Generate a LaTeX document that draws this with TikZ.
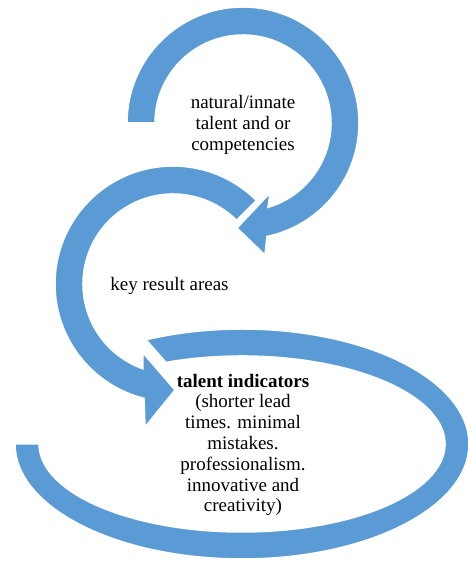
\documentclass[tikz,border=0pt]{standalone}
\usepackage{fontspec}
\setmainfont{Liberation Serif}
\usepackage{tikz}
\usetikzlibrary{calc}
\definecolor{arcblue}{RGB}{91, 155, 213}

\tikzset{
  arcband/.style={fill=arcblue, draw=white, line width=1.5pt, line join=miter},
  arclabel/.style={align=center, inner sep=0pt, font=\fontsize{19}{20.8}\selectfont}
}

\begin{document}
\begin{tikzpicture}[x=1pt, y=1pt]
        \useasboundingbox (0,0) rectangle (467,561);
        % centres of the three loops
        \coordinate (ctop) at (243,438);
        \coordinate (cmid) at (173,277);
        \coordinate (cbot) at (242,117);
        % bottom loop (no head)
        \filldraw[arcband] ($(cbot)+(-227,0)$)
            arc[start angle=180, end angle=475, x radius=227pt, y radius=115pt]
            -- ($(cbot)+({203*cos(472)},{88*sin(472)})$)
            arc[start angle=472, end angle=180, x radius=203pt, y radius=88pt] -- cycle;
        % middle loop
        \filldraw[arcband] ($(cmid)+(45:118pt)$)
            arc[start angle=45, end angle=255.8, radius=118pt]
            -- (145,134) -- (175,171) -- (143,208)
            -- ($(cmid)+(250.5:90pt)$)
            arc[start angle=250.5, end angle=45, radius=90pt] -- cycle;
        % top loop
        \filldraw[arcband] ($(ctop)+(180:116pt)$)
            arc[start angle=180, end angle=-78.1, radius=116pt]
            -- (265,306) -- (237,333) -- (270,368)
            -- ($(ctop)+(-73.5:88pt)$)
            arc[start angle=-73.5, end angle=180, radius=88pt] -- cycle;
        % labels
        \node[arclabel] (talent) at (243,436)
            {natural/innate\\talent and or\\competencies};
        \node[arclabel] (kra) at (169.5,275) {key result areas};
        \node[arclabel] (indicators) at (243,116)
            {\textbf{talent indicators}\\(shorter lead\\times. minimal\\mistakes.\\professionalism.\\innovative and\\creativity)};
      \end{tikzpicture}
\end{document}
